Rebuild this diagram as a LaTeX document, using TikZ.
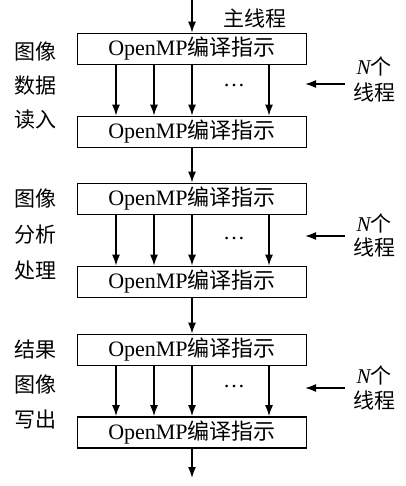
\documentclass[tikz,border=0pt]{standalone}
\usepackage{fontspec}
\setmainfont{Liberation Serif}
\newfontfamily\cjk{Noto Sans CJK SC}
\usetikzlibrary{arrows.meta}
\begin{document}
\begin{tikzpicture}[x=1pt,y=-1pt,
  box/.style={draw,line width=1.6pt,minimum width=229pt,minimum height=31pt,inner sep=0pt,font=\fontsize{22}{24}\selectfont},
  lbl/.style={font=\cjk\fontsize{21}{24}\selectfont,inner sep=0pt},
  dots/.style={font=\fontsize{22}{24}\selectfont,inner sep=0pt,anchor=base},
  arr/.style={line width=1.6pt,-{Latex[length=11pt,width=8pt]}}]
\useasboundingbox (0,0) rectangle (405,486);
% boxes
\node[box] (b1) at (192,49) {OpenMP{\cjk 编译指示}};
\node[box] (b2) at (192,132) {OpenMP{\cjk 编译指示}};
\node[box] (b3) at (192,199) {OpenMP{\cjk 编译指示}};
\node[box] (b4) at (192,282) {OpenMP{\cjk 编译指示}};
\node[box] (b5) at (192,350) {OpenMP{\cjk 编译指示}};
\node[box] (b6) at (192,432.5) {OpenMP{\cjk 编译指示}};
% main flow
\coordinate (top) at (192,0);
\coordinate (bot) at (192,478);
\draw[arr] (top) -- (b1.north);
\draw[arr] (b2.south) -- (b3.north);
\draw[arr] (b4.south) -- (b5.north);
\draw[arr] (b6.south) -- (bot);
\node[lbl] (main) at (255,18) {主线程};
% thread arrows
\foreach \o in {-76,-38,0,77}{
  \draw[arr] ([xshift=\o pt]b1.south) -- ([xshift=\o pt]b2.north);
  \draw[arr] ([xshift=\o pt]b3.south) -- ([xshift=\o pt]b4.north);
  \draw[arr] ([xshift=\o pt]b5.south) -- ([xshift=\o pt]b6.north);
}
\node[dots] (d1) at (234,87) {…};
\node[dots] (d2) at (234,239) {…};
\node[dots] (d3) at (234,387) {…};
% left labels
\node[lbl] (l1a) at (35,52) {图像};
\node[lbl] (l1b) at (35,86) {数据};
\node[lbl] (l1c) at (35,120) {读入};
\node[lbl] (l2a) at (35,199) {图像};
\node[lbl] (l2b) at (35,235) {分析};
\node[lbl] (l2c) at (35,271) {处理};
\node[lbl] (l3a) at (35,350) {结果};
\node[lbl] (l3b) at (35,385) {图像};
\node[lbl] (l3c) at (35,420) {写出};
% right labels
\node[lbl] (n1) at (374,67) {{\rmfamily\itshape N}个};
\node[lbl] (t1) at (374,92) {线程};
\node[lbl] (n2) at (374,223) {{\rmfamily\itshape N}个};
\node[lbl] (t2) at (374,247) {线程};
\node[lbl] (n3) at (374,375) {{\rmfamily\itshape N}个};
\node[lbl] (t3) at (374,400) {线程};
\coordinate (s1) at (345,84);  \coordinate (e1) at (305,84);
\coordinate (s2) at (345,236); \coordinate (e2) at (305,236);
\coordinate (s3) at (345,388); \coordinate (e3) at (305,388);
\draw[arr] (s1) -- (e1);
\draw[arr] (s2) -- (e2);
\draw[arr] (s3) -- (e3);
\end{tikzpicture}
\end{document}
